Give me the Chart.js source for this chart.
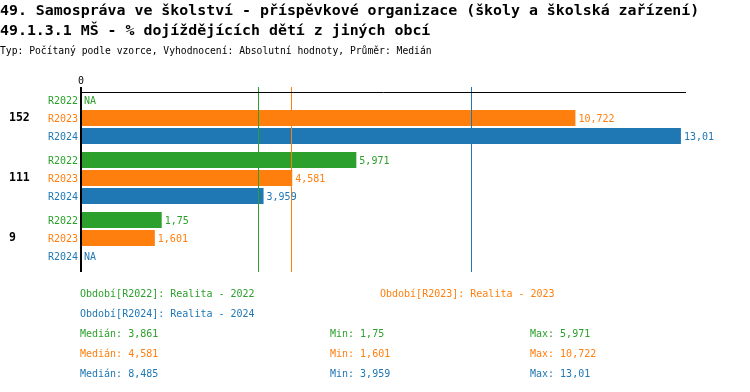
<!DOCTYPE html>
<html>
<head>
<meta charset="utf-8">
<script src="https://cdn.jsdelivr.net/npm/chart.js@4"></script>
<style>
  body { margin: 0; background: #fff; }
  #wrap { position: relative; width: 750px; height: 392px; overflow: hidden; font-family: "DejaVu Sans Mono", monospace; }
  #wrap canvas { position: absolute; left: 0; top: 0; }
  .t { position: absolute; white-space: pre; line-height: 20px; font-size: 10px; }
  .title { font-weight: bold; font-size: 14.9px; color: #000; }
</style>
</head>
<body>
<div id="wrap">
  <canvas id="chart" width="750" height="392"></canvas>
  <div class="t title" style="left:0; top:0">49. Samospráva ve školství - příspěvkové organizace (školy a školská zařízení)</div>
  <div class="t title" style="left:0; top:20px">49.1.3.1 MŠ - % dojíždějících dětí z jiných obcí</div>
  <div class="t" style="left:0; top:41px; font-size:9.7px">Typ: Počítaný podle vzorce, Vyhodnocení: Absolutní hodnoty, Průměr: Medián</div>
  <div id="legend"></div>
</div>
<script>
// kategorie (řádky) a hodnoty jednotlivých období
const categories = ['152', '111', '9'];
const seriesNames = ['R2022', 'R2023', 'R2024'];
const seriesTitles = ['Realita - 2022', 'Realita - 2023', 'Realita - 2024'];
const r2022 = [null, 5.971, 1.75];
const r2023 = [10.722, 4.581, 1.601];
const r2024 = [13.01, 3.959, null];
const colors = ['#2ca02c', '#ff7f0e', '#1f77b4'];
const xMax = 13.12;

const seriesValues = [r2022, r2023, r2024];

// formát čísla s desetinnou čárkou
function fmt(v) {
    if (v === null || v === undefined) return 'NA';
    const r = Math.round(v * 1000 + 1e-6) / 1000;
    return String(r).replace('.', ',');
}

function median(arr) {
    const a = arr.filter(v => v !== null).sort((x, y) => x - y);
    const m = Math.floor(a.length / 2);
    return a.length % 2 ? a[m] : (a[m - 1] + a[m]) / 2;
}

const medians = seriesValues.map(median);

// popisky, osy a mediánové čáry
const overlayPlugin = {
    id: 'overlay',
    afterDatasetsDraw(chart) {
        const ctx = chart.ctx;
        const area = chart.chartArea;
        const xs = chart.scales.x;
        const ys = chart.scales.y;
        const x0 = xs.getPixelForValue(0);
        ctx.save();

        // mediánové čáry
        medians.forEach((m, i) => {
            const px = Math.round(xs.getPixelForValue(m)) - 0.5;
            ctx.strokeStyle = colors[i];
            ctx.lineWidth = 1;
            ctx.beginPath();
            ctx.moveTo(px, area.top - 1);
            ctx.lineTo(px, area.bottom + 4);
            ctx.stroke();
        });

        // horní linka a nulová osa
        ctx.strokeStyle = '#000';
        ctx.lineWidth = 1;
        ctx.beginPath();
        ctx.moveTo(x0, area.top + 4.5);
        ctx.lineTo(area.right, area.top + 4.5);
        ctx.stroke();
        ctx.lineWidth = 2;
        ctx.beginPath();
        ctx.moveTo(x0, area.top - 1);
        ctx.lineTo(x0, area.bottom + 4);
        ctx.stroke();

        ctx.font = '10px "DejaVu Sans Mono", monospace';
        ctx.fillStyle = '#000';
        ctx.textAlign = 'center';
        ctx.textBaseline = 'middle';
        ctx.fillText('0', x0, area.top - 7);

        // popisky kategorií
        ctx.font = 'bold 11.5px "DejaVu Sans Mono", monospace';
        ctx.textAlign = 'left';
        categories.forEach((c, i) => {
            ctx.fillText(c, 9, ys.getPixelForValue(i));
        });

        // názvy sérií a hodnoty
        ctx.font = '10px "DejaVu Sans Mono", monospace';
        chart.data.datasets.forEach((ds, di) => {
            const meta = chart.getDatasetMeta(di);
            meta.data.forEach((bar, i) => {
                const y = bar.y;
                const v = ds.data[i];
                ctx.fillStyle = colors[di];
                ctx.textAlign = 'right';
                ctx.fillText(seriesNames[di], x0 - 3, y + 1);
                ctx.textAlign = 'left';
                const end = v === null ? x0 : xs.getPixelForValue(v);
                ctx.fillText(fmt(v), end + 3, y + 1);
            });
        });
        ctx.restore();
    }
};

new Chart(document.getElementById('chart'), {
    type: 'bar',
    data: {
        labels: categories,
        datasets: seriesValues.map((vals, i) => ({
            label: seriesNames[i],
            data: vals,
            backgroundColor: colors[i],
            borderWidth: 0,
            categoryPercentage: 0.9,
            barPercentage: 16 / 18
        }))
    },
    options: {
        indexAxis: 'y',
        responsive: false,
        animation: false,
        layout: { padding: { left: 81, right: 64, top: 88, bottom: 124 } },
        scales: {
            x: { display: false, min: 0, max: xMax },
            y: { display: false }
        },
        plugins: {
            legend: { display: false },
            tooltip: { enabled: false }
        }
    },
    plugins: [overlayPlugin]
});

// legenda a souhrnné statistiky jako text
const legend = document.getElementById('legend');
function addText(text, left, center, color) {
    const d = document.createElement('div');
    d.className = 't';
    d.style.left = left + 'px';
    d.style.top = (center - 10) + 'px';
    d.style.color = color;
    d.textContent = text;
    legend.appendChild(d);
}
addText('Období[' + seriesNames[0] + ']: ' + seriesTitles[0], 80, 294, colors[0]);
addText('Období[' + seriesNames[1] + ']: ' + seriesTitles[1], 380, 294, colors[1]);
addText('Období[' + seriesNames[2] + ']: ' + seriesTitles[2], 80, 314, colors[2]);
seriesValues.forEach((vals, i) => {
    const y = 334 + i * 20;
    const present = vals.filter(v => v !== null);
    addText('Medián: ' + fmt(medians[i]), 80, y, colors[i]);
    addText('Min: ' + fmt(Math.min(...present)), 330, y, colors[i]);
    addText('Max: ' + fmt(Math.max(...present)), 530, y, colors[i]);
});
</script>
</body>
</html>
